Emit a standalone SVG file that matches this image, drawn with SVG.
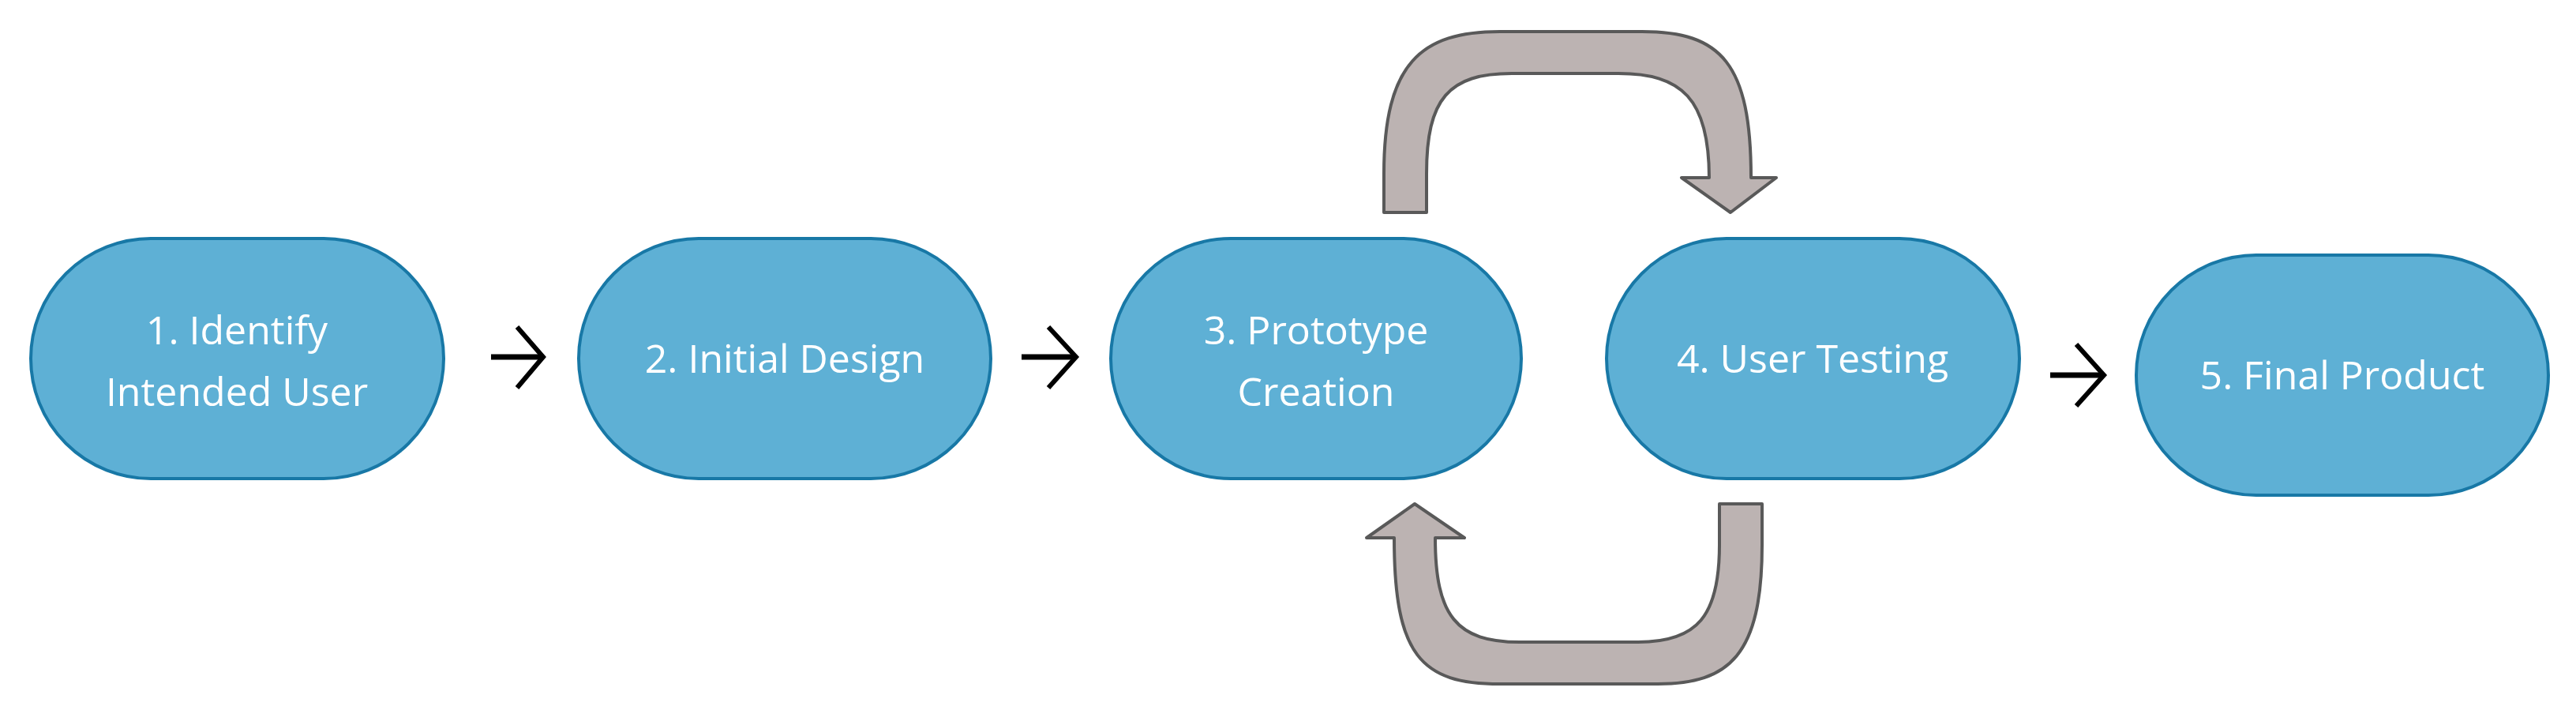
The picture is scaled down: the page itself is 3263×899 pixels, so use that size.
<svg xmlns="http://www.w3.org/2000/svg" width="3263" height="899" viewBox="0 0 3263 899">
<style>
.n{fill:#5EB0D5;stroke:#1878A6;stroke-width:4}
.t{fill:#fff;font-family:"Open Sans","Noto Sans",sans-serif;font-size:50px;text-anchor:middle}
.b{fill:#BCB3B2;stroke:#595959;stroke-width:4;stroke-linejoin:round}
.s{stroke:#000;fill:none;stroke-width:6}
.c{stroke:#000;fill:none;stroke-width:7}
</style>
<rect width="3263" height="899" fill="#fff"/>
<g id="n1"><rect class="n" x="39" y="302" width="523" height="304" rx="152"/><text class="t" x="300" y="436">1. Identify</text><text class="t" x="300" y="514">Intended User</text></g>
<g id="n2"><rect class="n" x="733" y="302" width="522" height="304" rx="152"/><text class="t" x="994" y="472">2. Initial Design</text></g>
<g id="n3"><rect class="n" x="1407" y="302" width="520" height="304" rx="152"/><text class="t" x="1667" y="436">3. Prototype</text><text class="t" x="1667" y="514">Creation</text></g>
<g id="n4"><rect class="n" x="2035" y="302" width="523" height="304" rx="152"/><text class="t" x="2296" y="472">4. User Testing</text></g>
<g id="n5"><rect class="n" x="2706" y="323" width="522" height="304" rx="152"/><text class="t" x="2967" y="493">5. Final Product</text></g>
<g id="connectors">
<path class="c" d="M622 452H686"/><path class="s" d="M655 414L688 452L655 491"/>
<path class="c" d="M1294 452H1361"/><path class="s" d="M1328 414L1363 452L1328 491"/>
<path class="c" d="M2597 475H2664"/><path class="s" d="M2630 436L2665 475L2630 514"/>
<path class="b" d="M1753 269L1753 220C1753 80 1800 40 1900 40L2080 40C2180 40 2218 80 2218 225L2250 225L2192 269L2130 225L2165 225C2165 125 2130 93 2050 93L1915 93C1835 93 1807 125 1807 220L1807 269Z"/>
<path class="b" d="M2232 638L2232 690C2232 830 2190 866 2100 866L1900 866C1800 866 1766 830 1766 681L1731 681L1792 638L1855 681L1818 681C1818 780 1845 813 1925 813L2075 813C2150 813 2178 780 2178 690L2178 638Z"/>
</g>
</svg>
